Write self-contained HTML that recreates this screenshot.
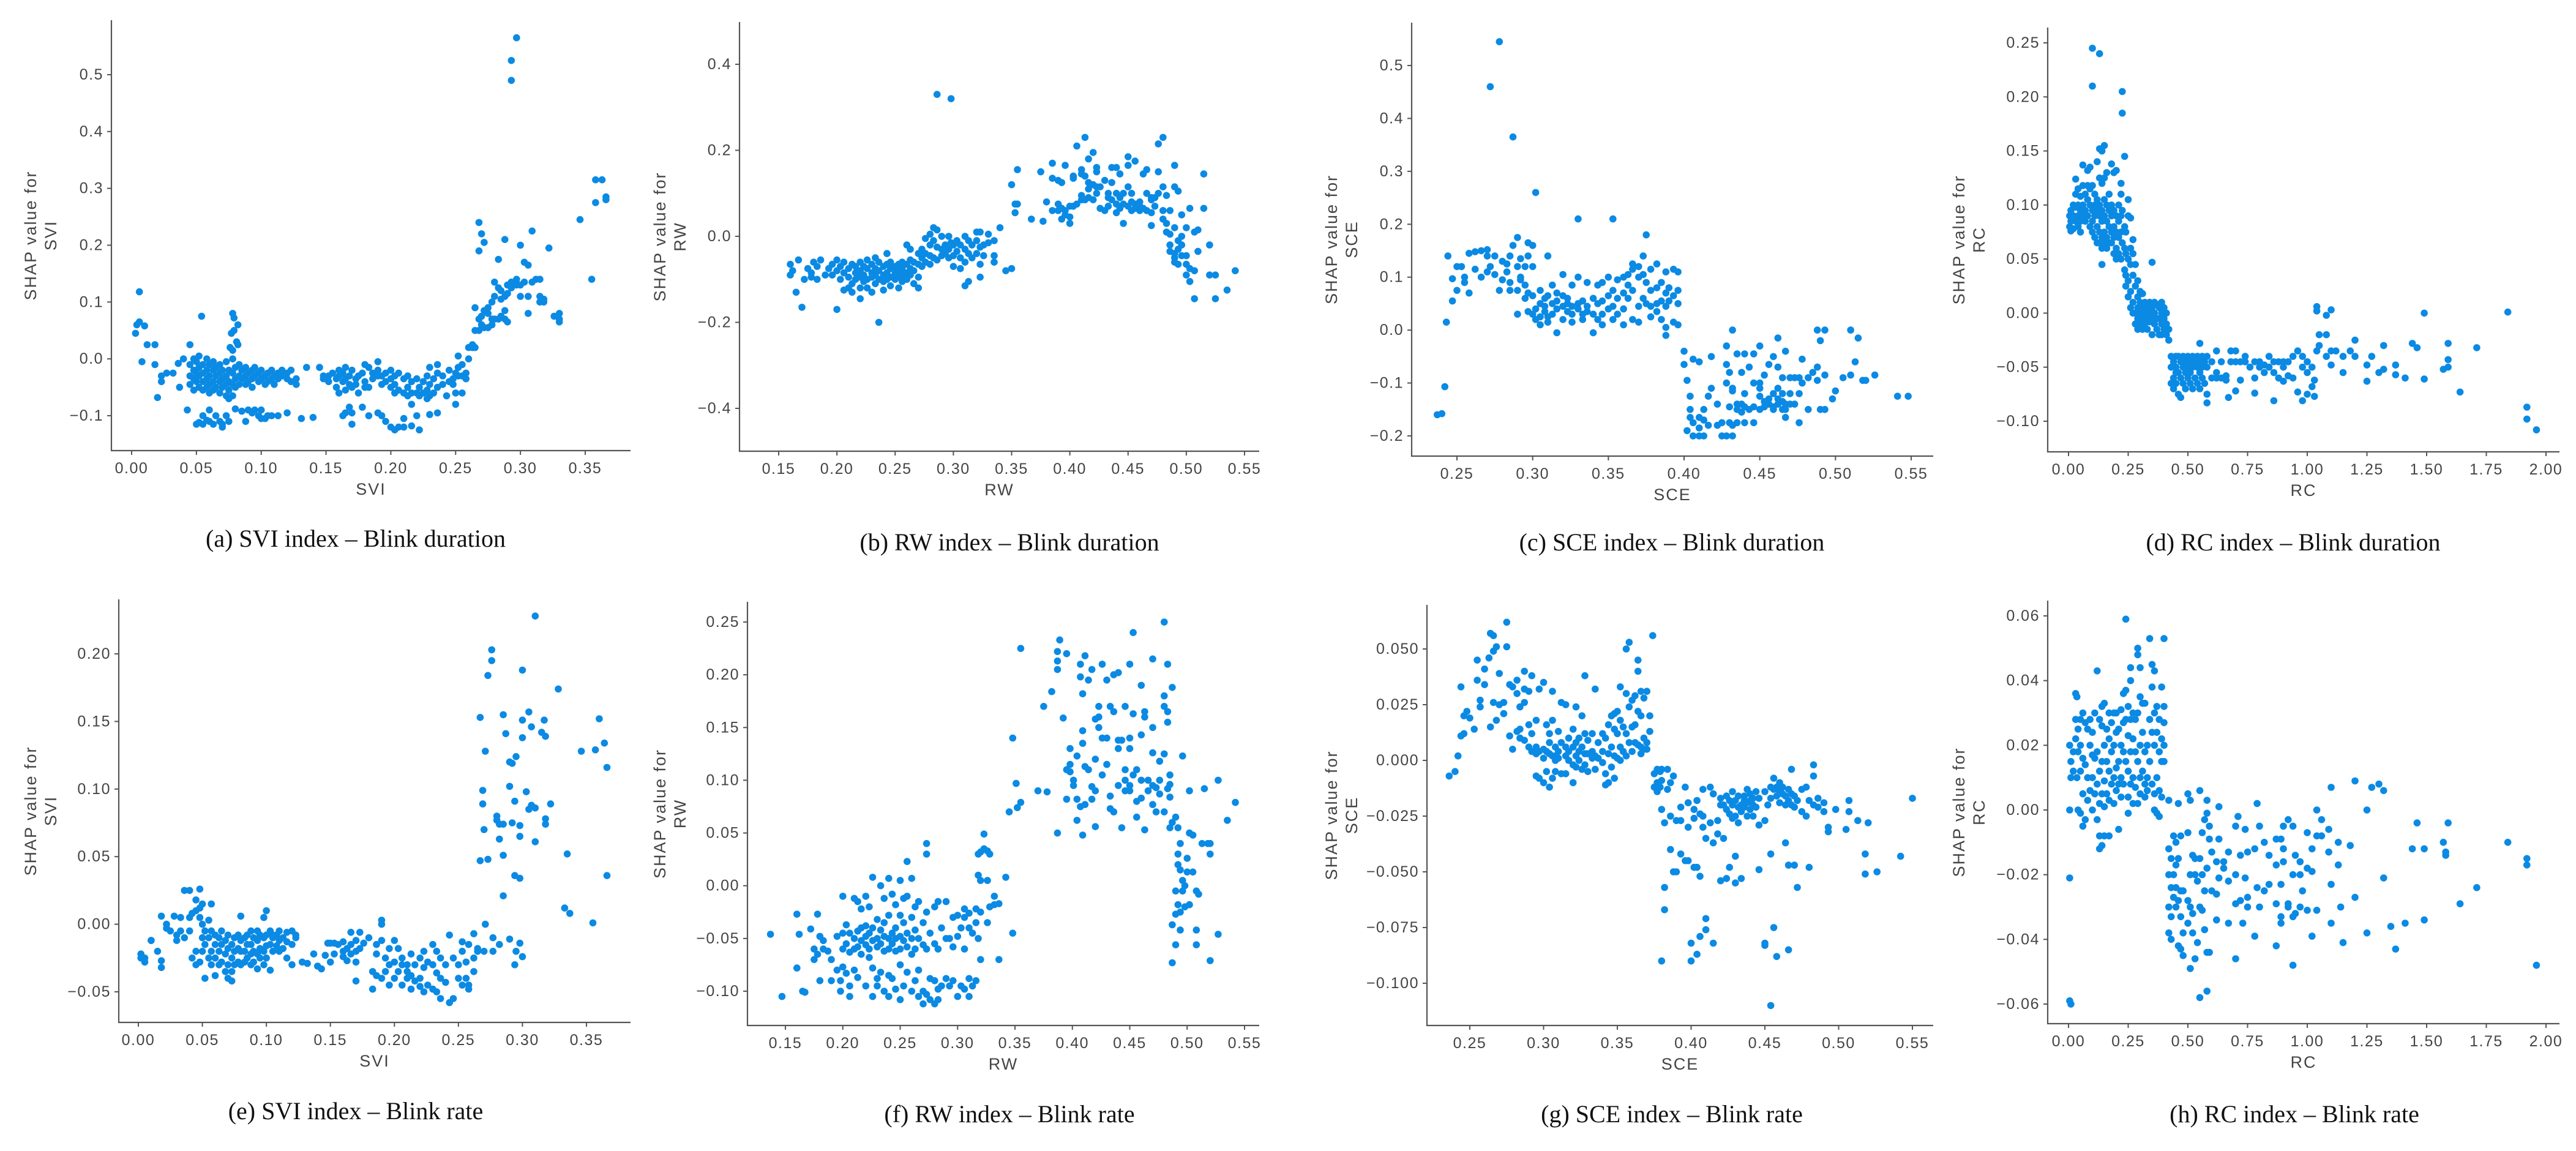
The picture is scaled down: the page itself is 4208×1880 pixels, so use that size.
<!DOCTYPE html>
<html><head><meta charset="utf-8">
<style>
html,body{margin:0;padding:0;background:#fff;}
svg{display:block;}
.tk{font-family:"Liberation Sans","Noto Sans CJK SC",sans-serif;font-size:25px;fill:#444;letter-spacing:1.5px;}
.al{font-family:"Liberation Sans","Noto Sans CJK SC",sans-serif;font-size:27px;fill:#444;letter-spacing:2px;}
.cap{font-family:"Liberation Serif",serif;font-size:40px;fill:#111;}
</style></head>
<body>
<svg id="fig" xmlns="http://www.w3.org/2000/svg" width="4208" height="1880" viewBox="0 0 4208 1880"></svg>
<script>
// ---- data: columns of [xValue, [shapValues...]] ----
const dataA=[[0.003,[0.045]],[0.004,[0.06]],[0.006,[0.065,0.118]],[0.008,[-0.005]],[0.01,[0.058]],[0.012,[0.025]],[0.018,[0.025,-0.01]],[0.02,[-0.068]],[0.023,[-0.03,-0.04]],[0.027,[-0.025]],[0.032,[-0.025]],[0.036,[-0.008]],[0.037,[-0.05]],[0.04,[0]],[0.043,[-0.09]],[0.045,[0.025,-0.01,-0.03,-0.045]],[0.048,[0,-0.02,-0.035,-0.055]],[0.05,[-0.005,-0.025,-0.04,-0.115]],[0.052,[0.005,-0.015,-0.03,-0.05,-0.112]],[0.054,[0.075]],[0.055,[-0.01,-0.025,-0.04,-0.055,-0.1,-0.115]],[0.058,[0,-0.02,-0.035,-0.05,-0.108]],[0.06,[-0.01,-0.03,-0.045,-0.06,-0.09,-0.11]],[0.063,[-0.005,-0.02,-0.04,-0.055,-0.115]],[0.065,[-0.015,-0.03,-0.05,-0.1]],[0.068,[-0.01,-0.025,-0.04,-0.06,-0.11]],[0.07,[-0.02,-0.035,-0.05,-0.115,-0.12]],[0.073,[-0.005,-0.03,-0.045,-0.065,-0.1]],[0.075,[-0.02,-0.04,-0.055,-0.07,-0.11]],[0.076,[0.02]],[0.077,[0.045]],[0.078,[0.08,0.015,0,-0.025,-0.045,-0.065]],[0.079,[0.072,0.05]],[0.08,[-0.015,-0.035,-0.05,-0.088]],[0.081,[0.03]],[0.082,[0.06,0.025]],[0.083,[-0.01,-0.03,-0.045]],[0.085,[-0.02,-0.035,-0.092]],[0.088,[-0.015,-0.03,-0.045,-0.11]],[0.09,[-0.025,-0.04,-0.09]],[0.093,[-0.02,-0.035,-0.05,-0.095]],[0.095,[-0.015,-0.03,-0.09]],[0.098,[-0.025,-0.04,-0.1]],[0.1,[-0.02,-0.035,-0.09,-0.105]],[0.103,[-0.03,-0.045,-0.105]],[0.105,[-0.025,-0.04,-0.1]],[0.108,[-0.02,-0.035,-0.1]],[0.11,[-0.03,-0.045]],[0.113,[-0.025,-0.035,-0.1]],[0.116,[-0.02,-0.03]],[0.12,[-0.025,-0.035,-0.095]],[0.123,[-0.02,-0.04]],[0.127,[-0.045,-0.035]],[0.131,[-0.105]],[0.135,[-0.015]],[0.14,[-0.103]],[0.145,[-0.015]],[0.148,[-0.03,-0.035]],[0.152,[-0.03,-0.04]],[0.155,[-0.025]],[0.158,[-0.035,-0.05]],[0.16,[-0.02,-0.03,-0.06]],[0.163,[-0.025,-0.04,-0.1]],[0.165,[-0.015,-0.035,-0.055,-0.095]],[0.168,[-0.03,-0.045,-0.085]],[0.17,[-0.02,-0.05,-0.095,-0.115]],[0.173,[-0.035,-0.045]],[0.175,[-0.03,-0.06]],[0.178,[-0.025,-0.085]],[0.18,[-0.01,-0.04,-0.05]],[0.183,[-0.015,-0.05,-0.1]],[0.186,[-0.025,-0.035]],[0.19,[-0.005,-0.02,-0.03,-0.095]],[0.193,[-0.03,-0.045,-0.1]],[0.196,[-0.025,-0.04,-0.11]],[0.2,[-0.02,-0.035,-0.05,-0.12]],[0.203,[-0.03,-0.045,-0.06,-0.125]],[0.206,[-0.025,-0.055,-0.12]],[0.21,[-0.035,-0.06,-0.105,-0.12]],[0.213,[-0.03,-0.05,-0.065]],[0.216,[-0.04,-0.06,-0.08,-0.118]],[0.22,[-0.035,-0.06,-0.1]],[0.222,[-0.05,-0.065,-0.125]],[0.225,[-0.04,-0.06]],[0.228,[-0.03,-0.055,-0.07]],[0.23,[-0.015,-0.045,-0.065,-0.098]],[0.233,[-0.035,-0.06]],[0.236,[-0.01,-0.025,-0.05,-0.095]],[0.24,[-0.03,-0.045]],[0.243,[-0.065]],[0.245,[-0.02,-0.04]],[0.248,[-0.035,-0.045]],[0.25,[-0.025,-0.08,-0.06]],[0.252,[0.005,-0.015,-0.03]],[0.255,[-0.01,-0.03,-0.06]],[0.258,[-0.025,-0.035]],[0.26,[0.02,0]],[0.263,[0.02,0.025]],[0.265,[0.02,0.05,0.09]],[0.268,[0.05,0.07,0.19,0.24]],[0.27,[0.06,0.075,0.22]],[0.272,[0.055,0.085,0.205]],[0.275,[0.08,0.09,0.055]],[0.278,[0.06,0.1,0.07]],[0.28,[0.07,0.135,0.11]],[0.283,[0.07,0.125,0.175]],[0.285,[0.075,0.105,0.12]],[0.288,[0.07,0.085,0.11,0.21]],[0.29,[0.065,0.115,0.13]],[0.293,[0.125,0.135,0.49,0.525]],[0.297,[0.14,0.13,0.565]],[0.3,[0.2,0.13,0.11]],[0.303,[0.17,0.135]],[0.306,[0.165,0.11,0.08]],[0.309,[0.225,0.135]],[0.312,[0.14]],[0.315,[0.1,0.11,0.14]],[0.318,[0.105,0.1]],[0.322,[0.195]],[0.326,[0.075]],[0.33,[0.07,0.065,0.08]],[0.346,[0.245]],[0.355,[0.14]],[0.358,[0.315,0.275]],[0.363,[0.315]],[0.366,[0.28,0.285]]];
const dataB=[[0.16,[-0.065,-0.09]],[0.162,[-0.08]],[0.165,[-0.13]],[0.167,[-0.055]],[0.17,[-0.165]],[0.172,[-0.1]],[0.175,[-0.075]],[0.178,[-0.085,-0.095]],[0.18,[-0.06]],[0.183,[-0.07,-0.1]],[0.186,[-0.055]],[0.19,[-0.09]],[0.193,[-0.075]],[0.196,[-0.065,-0.09]],[0.2,[-0.055,-0.08,-0.17]],[0.203,[-0.07,-0.1]],[0.206,[-0.06,-0.085,-0.125]],[0.21,[-0.075,-0.095,-0.12]],[0.213,[-0.065,-0.11,-0.13]],[0.216,[-0.07,-0.085,-0.1]],[0.22,[-0.06,-0.08,-0.095,-0.12,-0.145]],[0.223,[-0.07,-0.09,-0.105]],[0.226,[-0.055,-0.075,-0.1,-0.12]],[0.23,[-0.065,-0.085,-0.095,-0.13]],[0.233,[-0.05,-0.075,-0.09,-0.11]],[0.236,[-0.06,-0.08,-0.1,-0.2]],[0.24,[-0.07,-0.09,-0.105,-0.125]],[0.243,[-0.04,-0.065,-0.085,-0.1]],[0.246,[-0.06,-0.075,-0.095,-0.115]],[0.25,[-0.07,-0.085,-0.1]],[0.253,[-0.065,-0.08,-0.095,-0.12]],[0.256,[-0.06,-0.075,-0.09,-0.105]],[0.26,[-0.02,-0.065,-0.085,-0.1]],[0.263,[-0.03,-0.055,-0.075,-0.09]],[0.266,[-0.06,-0.08,-0.11]],[0.27,[-0.04,-0.065,-0.095,-0.12]],[0.273,[-0.03,-0.05,-0.07]],[0.276,[-0.005,-0.04,-0.06]],[0.28,[0.005,-0.02,-0.045,-0.065]],[0.283,[0.02,-0.01,-0.05]],[0.286,[0.015,-0.025,-0.055,0.33]],[0.29,[0,-0.03,-0.045]],[0.293,[-0.02,-0.04]],[0.296,[0,-0.03,-0.05]],[0.298,[0.32,-0.015]],[0.3,[-0.02,-0.045,-0.07]],[0.303,[-0.01,-0.035]],[0.306,[-0.02,-0.05,-0.075]],[0.31,[0,-0.03,-0.06,-0.115]],[0.313,[-0.01,-0.04,-0.105]],[0.316,[-0.02,-0.05]],[0.32,[0.01,-0.01,-0.04]],[0.323,[0.01,-0.025,-0.065,-0.095]],[0.326,[-0.02,-0.045]],[0.33,[0.005,-0.015]],[0.335,[-0.01,-0.06,-0.045]],[0.34,[0.02]],[0.345,[-0.08]],[0.35,[-0.075,0.12]],[0.353,[0.055,0.075]],[0.355,[0.155,0.075]],[0.367,[0.04]],[0.375,[0.15]],[0.377,[0.035]],[0.38,[0.08]],[0.385,[0.06,0.135,0.17]],[0.39,[0.06,0.13,0.075]],[0.393,[0.065,0.125,0.04]],[0.396,[0.165,0.06,0.05]],[0.4,[0.03,0.07,0.045]],[0.403,[0.135,0.14,0.07]],[0.406,[0.21,0.075]],[0.41,[0.155,0.145,0.095,0.085]],[0.413,[0.23,0.14,0.085]],[0.416,[0.18,0.125,0.09,0.11]],[0.42,[0.195,0.12,0.085]],[0.423,[0.16,0.15,0.1,0.115]],[0.426,[0.115,0.065]],[0.43,[0.13,0.06]],[0.433,[0.1,0.09,0.07]],[0.436,[0.085,0.125,0.16]],[0.44,[0.16,0.1,0.055,0.075]],[0.443,[0.145,0.09,0.065]],[0.446,[0.1,0.03,0.075]],[0.45,[0.165,0.115,0.185,0.07]],[0.453,[0.1,0.06,0.08]],[0.456,[0.075,0.065,0.175]],[0.46,[0.07,0.08,0.06]],[0.463,[0.145,0.065]],[0.466,[0.155,0.06,0.1]],[0.47,[0.09,0.085,0.025,0.055]],[0.473,[0.09,0.07]],[0.476,[0.215,0.15,0.1]],[0.48,[0.23,0.115,0.06,0.04]],[0.483,[0.01,0.03,0.095]],[0.486,[0.005,-0.02,-0.035,0.06]],[0.49,[-0.04,-0.05,-0.06,0.02,0.115,0.165]],[0.493,[-0.01,-0.03,-0.065,0.105]],[0.496,[0,-0.02,-0.045,0.05]],[0.5,[-0.045,-0.065,-0.09,0.02]],[0.503,[-0.075,0.065,-0.105]],[0.507,[-0.145,-0.08,0.01]],[0.51,[0.015,-0.035]],[0.515,[0.145,0.065]],[0.52,[-0.02,-0.09]],[0.525,[-0.09,-0.145]],[0.535,[-0.125]],[0.542,[-0.08]]];
const dataC=[[0.237,[-0.16]],[0.24,[-0.158]],[0.242,[-0.107]],[0.243,[0.015]],[0.244,[0.14]],[0.247,[0.055,0.097]],[0.25,[0.075,0.12]],[0.253,[0.12]],[0.255,[0.1,0.09]],[0.258,[0.145,0.07]],[0.262,[0.148,0.115]],[0.266,[0.15,0.1]],[0.27,[0.152,0.14,0.11]],[0.272,[0.46,0.12]],[0.275,[0.14,0.105]],[0.278,[0.075,0.545]],[0.28,[0.13,0.095]],[0.283,[0.125,0.11]],[0.285,[0.14,0.09,0.075]],[0.287,[0.365,0.16]],[0.29,[0.175,0.12,0.03,0.075]],[0.292,[0.135,0.1,0.095]],[0.295,[0.12,0.085,0.06]],[0.297,[0.165,0.14,0.035,0.07]],[0.3,[0.16,0.12,0.065,0.03]],[0.302,[0.26,0.04,0.02]],[0.305,[0.075,0.05,0.01,0.025]],[0.308,[0.06,0.035,0.045]],[0.31,[0.14,0.065,0.025,0.015]],[0.313,[0.085,0.05,0.03]],[0.316,[0.07,0.055,0.04,-0.005]],[0.32,[0.065,0.045,0.02,0.105]],[0.323,[0.05,0.035,0.06]],[0.326,[0.085,0.045,0.03,0.015]],[0.33,[0.1,0.05,0.04,0.21]],[0.333,[0.055,0.03,0.02]],[0.336,[0.09,0.045,0.035]],[0.34,[0.06,0.03,-0.005]],[0.343,[0.085,0.05,0.02]],[0.346,[0.09,0.055,0.03,0.01]],[0.35,[0.1,0.04,0.065]],[0.353,[0.21,0.075,0.045,0.02]],[0.356,[0.095,0.06,0.03]],[0.36,[0.1,0.07,0.04,0.01]],[0.363,[0.085,0.06,0.105]],[0.366,[0.125,0.115,0.075,0.02]],[0.37,[0.12,0.1,0.045,0.015]],[0.373,[0.14,0.105,0.06]],[0.375,[0.18,0.09,0.05]],[0.378,[0.115,0.075,0.045,0.025]],[0.382,[0.125,0.08,0.05,0.035]],[0.385,[0.09,0.055,0.02]],[0.388,[0.11,0.07,0.045,-0.01,0.005]],[0.39,[0.08,0.055]],[0.393,[0.115,0.065,0.015]],[0.396,[0.11,0.075,0.05,0.01]],[0.4,[-0.065,-0.04]],[0.402,[-0.095,-0.19]],[0.404,[-0.165,-0.125,-0.15]],[0.406,[-0.055,-0.2,-0.175]],[0.41,[-0.06,-0.165,-0.2,-0.185]],[0.413,[-0.15,-0.2,-0.17]],[0.416,[-0.125,-0.18]],[0.418,[-0.11,-0.05]],[0.422,[-0.14,-0.18]],[0.425,[-0.2,-0.175]],[0.428,[-0.1,-0.03,-0.065,-0.2]],[0.43,[-0.145,-0.175,-0.08]],[0.432,[-0.11,-0.115,-0.18,-0.2,0]],[0.435,[-0.15,-0.14,-0.045,-0.175]],[0.438,[-0.08,-0.155,-0.14]],[0.44,[-0.12,-0.045,-0.175,-0.145]],[0.443,[-0.15,-0.07]],[0.446,[-0.1,-0.145,-0.045,-0.175]],[0.45,[-0.1,-0.11,-0.03,-0.15,-0.125]],[0.453,[-0.145,-0.135,-0.085]],[0.456,[-0.13,-0.14,-0.065]],[0.459,[-0.12,-0.145,-0.15,-0.05]],[0.462,[-0.14,-0.13,-0.11,-0.015,-0.07]],[0.465,[-0.12,-0.135,-0.15,-0.09]],[0.467,[-0.14,-0.15,-0.04,-0.165]],[0.47,[-0.09,-0.12,-0.14]],[0.473,[-0.09,-0.14]],[0.476,[-0.09,-0.175,-0.12]],[0.478,[-0.055,-0.1]],[0.482,[-0.09,-0.15]],[0.485,[-0.08]],[0.488,[-0.07,0,-0.095]],[0.49,[-0.02,-0.15]],[0.493,[0,-0.085,-0.15]],[0.498,[-0.13]],[0.5,[-0.115]],[0.505,[-0.09]],[0.51,[-0.085,0]],[0.513,[-0.06]],[0.515,[-0.015]],[0.518,[-0.095]],[0.52,[-0.095]],[0.526,[-0.085]],[0.541,[-0.125]],[0.548,[-0.125]]];
const dataD=[[0.005,[0.09,0.08]],[0.01,[0.095,0.085,0.076]],[0.02,[0.1,0.09,0.078]],[0.03,[0.124,0.11,0.098,0.085]],[0.04,[0.115,0.1,0.09,0.08]],[0.05,[0.108,0.095,0.085,0.075]],[0.06,[0.137,0.118,0.1,0.09]],[0.07,[0.11,0.095,0.085]],[0.08,[0.132,0.118,0.105,0.09]],[0.09,[0.135,0.115,0.1,0.08]],[0.1,[0.245,0.21,0.118,0.095,0.085,0.075]],[0.11,[0.11,0.1,0.09,0.07]],[0.12,[0.14,0.105,0.095,0.08,0.065]],[0.13,[0.24,0.152,0.125,0.1,0.09,0.075,0.065]],[0.14,[0.15,0.12,0.095,0.085,0.07,0.06,0.045]],[0.15,[0.155,0.125,0.105,0.09,0.075,0.065]],[0.16,[0.13,0.1,0.085,0.07,0.06]],[0.17,[0.11,0.095,0.08,0.065]],[0.18,[0.138,0.1,0.09,0.075,0.065]],[0.19,[0.13,0.095,0.08,0.07,0.055]],[0.2,[0.132,0.09,0.075,0.06,0.05]],[0.21,[0.1,0.085,0.07,0.055]],[0.22,[0.12,0.11,0.09,0.075,0.05]],[0.225,[0.205,0.185,0.095,0.065]],[0.235,[0.145,0.08,0.06,0.04]],[0.24,[0.075,0.055,0.035,0.025]],[0.25,[0.105,0.09,0.05,0.03,0.015]],[0.26,[0.088,0.06,0.045,0.02,0.005]],[0.27,[0.068,0.055,0.035,0.01,0]],[0.28,[0.045,0.025,0,-0.01]],[0.29,[0.03,0.015,0.005,-0.005,-0.015]],[0.3,[0.02,0.01,0,-0.01]],[0.31,[0.018,0.005,-0.005,-0.015]],[0.32,[0.01,0,-0.01,-0.005]],[0.33,[0.005,-0.005,-0.015]],[0.34,[0.01,0,-0.008]],[0.35,[0.047,0.005,-0.005,-0.02]],[0.36,[0.01,0,-0.01]],[0.37,[0.008,-0.005,-0.015]],[0.38,[0.005,-0.005,-0.02]],[0.39,[0.01,0,-0.01,-0.02]],[0.4,[0.005,-0.005,-0.015]],[0.41,[0,-0.01,-0.02]],[0.42,[-0.015,-0.025]],[0.43,[-0.04,-0.05,-0.065]],[0.44,[-0.045,-0.06,-0.07]],[0.45,[-0.04,-0.05,-0.055,-0.065]],[0.46,[-0.04,-0.055,-0.075]],[0.47,[-0.045,-0.06,-0.078]],[0.48,[-0.04,-0.05,-0.065]],[0.49,[-0.045,-0.055,-0.07]],[0.5,[-0.04,-0.05,-0.06]],[0.51,[-0.045,-0.055,-0.065]],[0.52,[-0.04,-0.05,-0.07]],[0.53,[-0.045,-0.06]],[0.54,[-0.04,-0.05,-0.065]],[0.55,[-0.028,-0.045,-0.055,-0.07]],[0.56,[-0.04,-0.05,-0.06]],[0.57,[-0.045,-0.065]],[0.58,[-0.04,-0.05,-0.075,-0.083]],[0.6,[-0.045,-0.06]],[0.62,[-0.035,-0.055,-0.06]],[0.64,[-0.045,-0.06]],[0.66,[-0.058,-0.062]],[0.67,[-0.078]],[0.68,[-0.035,-0.045]],[0.7,[-0.035,-0.045,-0.072]],[0.72,[-0.045,-0.062]],[0.74,[-0.04,-0.045]],[0.76,[-0.05]],[0.78,[-0.045,-0.06,-0.074]],[0.8,[-0.05,-0.045]],[0.82,[-0.048,-0.055]],[0.84,[-0.04,-0.05]],[0.86,[-0.045,-0.055,-0.081]],[0.88,[-0.045,-0.06]],[0.9,[-0.05,-0.063,-0.045]],[0.92,[-0.045,-0.058]],[0.94,[-0.04,-0.06]],[0.96,[-0.035,-0.073]],[0.98,[-0.05,-0.081,-0.04]],[1.0,[-0.045,-0.055,-0.075]],[1.02,[-0.05,-0.068]],[1.03,[-0.062,-0.077]],[1.04,[0.006,0.002,-0.035]],[1.05,[-0.02,-0.03]],[1.08,[-0.04,-0.02,-0.002]],[1.1,[0.003,-0.035,-0.048]],[1.12,[-0.035]],[1.15,[-0.04,-0.055]],[1.18,[-0.035]],[1.2,[-0.025,-0.04]],[1.25,[-0.048,-0.063]],[1.27,[-0.04]],[1.3,[-0.055]],[1.32,[-0.03,-0.052]],[1.37,[-0.048,-0.057]],[1.41,[-0.06]],[1.44,[-0.028]],[1.46,[-0.032]],[1.49,[0,-0.061]],[1.57,[-0.052]],[1.59,[-0.028,-0.043,-0.05]],[1.64,[-0.073]],[1.71,[-0.032]],[1.84,[0.001]],[1.92,[-0.087,-0.098]],[1.96,[-0.108]]];
const dataE=[[0.002,[-0.022,-0.025]],[0.005,[-0.025,-0.028]],[0.01,[-0.012,-0.012]],[0.015,[-0.02]],[0.018,[0.006,-0.032,-0.027]],[0.022,[-0.003,0]],[0.025,[-0.005]],[0.028,[0.006]],[0.03,[-0.012,-0.008]],[0.033,[0.005,-0.005]],[0.036,[0.025,-0.01]],[0.04,[0.025,0.005,-0.005]],[0.042,[0.008,-0.025]],[0.045,[0.018,0.01,-0.03,-0.02]],[0.048,[0.026,0.012,0.005,-0.028]],[0.05,[0,-0.01,-0.02,0.015]],[0.052,[-0.005,-0.015,-0.04]],[0.055,[0.003,-0.01,-0.025]],[0.057,[0.015,-0.005,-0.02,-0.03]],[0.06,[-0.008,-0.015,-0.025,-0.038]],[0.063,[-0.01,-0.02,-0.03]],[0.065,[-0.005,-0.015,-0.028]],[0.068,[-0.012,-0.022,-0.035]],[0.07,[-0.008,-0.018,-0.03,-0.04]],[0.073,[-0.015,-0.025,-0.035,-0.042]],[0.075,[-0.01,-0.02,-0.03]],[0.078,[-0.008,-0.018,-0.028]],[0.08,[0.006,-0.012,-0.02,-0.03]],[0.083,[-0.01,-0.02,-0.028]],[0.085,[-0.008,-0.015,-0.025]],[0.088,[-0.005,-0.015,-0.022,-0.03]],[0.09,[-0.01,-0.02,-0.028]],[0.093,[-0.005,-0.012,-0.022,-0.033]],[0.095,[-0.008,-0.018,-0.025]],[0.098,[0.005,-0.01,-0.02,-0.03]],[0.1,[0.01,-0.008,-0.016,-0.025]],[0.103,[-0.005,-0.015,-0.034]],[0.105,[-0.01,-0.02,-0.008]],[0.108,[-0.008,-0.016]],[0.11,[-0.012,-0.02,-0.005]],[0.113,[-0.01,-0.018]],[0.116,[-0.006,-0.013,-0.025]],[0.12,[-0.005,-0.015,-0.03]],[0.123,[-0.008,-0.01]],[0.128,[-0.028]],[0.132,[-0.029]],[0.137,[-0.022]],[0.14,[-0.031]],[0.143,[-0.033]],[0.146,[-0.023]],[0.148,[-0.014]],[0.15,[-0.028,-0.014]],[0.153,[-0.014,-0.022]],[0.156,[-0.015]],[0.16,[-0.013,-0.02,-0.024]],[0.163,[-0.018,-0.027]],[0.166,[-0.006,-0.015,-0.022]],[0.17,[-0.012,-0.02,-0.042,-0.028]],[0.173,[-0.006,-0.018]],[0.176,[-0.014]],[0.18,[-0.01]],[0.183,[-0.035,-0.048]],[0.186,[-0.015,-0.022,-0.038]],[0.19,[0.003,0,-0.04,-0.012]],[0.193,[-0.025,-0.035]],[0.196,[-0.018,-0.03,-0.045]],[0.2,[-0.012,-0.028,-0.04]],[0.203,[-0.018,-0.035]],[0.206,[-0.025,-0.045,-0.03]],[0.21,[-0.03,-0.04,-0.035]],[0.213,[-0.022,-0.038,-0.048]],[0.216,[-0.03,-0.042]],[0.22,[-0.025,-0.04,-0.046]],[0.223,[-0.02,-0.032,-0.05]],[0.226,[-0.028,-0.045]],[0.23,[-0.015,-0.03,-0.048]],[0.233,[-0.02,-0.036,-0.05]],[0.236,[-0.025,-0.04,-0.055]],[0.24,[-0.03,-0.043]],[0.243,[-0.008,-0.058]],[0.246,[-0.025,-0.055]],[0.25,[-0.04,-0.03]],[0.253,[-0.013,-0.045,-0.02]],[0.256,[-0.028,-0.04]],[0.258,[-0.015,-0.045,-0.048]],[0.262,[-0.007,-0.025,-0.035]],[0.265,[-0.02,-0.018]],[0.267,[0.153,0.047]],[0.269,[0.099,0.089]],[0.27,[0.07,-0.02]],[0.271,[0.128,0]],[0.273,[0.184,0.048]],[0.276,[0.203,0.195]],[0.277,[-0.01,-0.02]],[0.28,[0.077,0.08]],[0.282,[0.063,0.074,-0.015]],[0.285,[0.155,0.051,0.021,0.074]],[0.287,[0.141]],[0.29,[0.102,0.12,-0.011]],[0.292,[0.119,0.075]],[0.294,[0.091,0.036,-0.03]],[0.295,[0.124,-0.02]],[0.298,[0.065,0.073,0.034,-0.014]],[0.3,[0.138,0.151,0.188,-0.024]],[0.303,[0.098]],[0.305,[0.085,0.157]],[0.307,[0.146,0.088]],[0.31,[0.228,0.086,0.061]],[0.315,[0.142]],[0.317,[0.151]],[0.318,[0.139,0.078,0.074]],[0.322,[0.089]],[0.328,[0.174]],[0.333,[0.012]],[0.335,[0.052]],[0.337,[0.008]],[0.346,[0.128]],[0.355,[0.001]],[0.357,[0.129]],[0.36,[0.152]],[0.364,[0.134]],[0.366,[0.116,0.036]]];
const dataF=[[0.137,[-0.046]],[0.147,[-0.105]],[0.16,[-0.078,-0.027]],[0.162,[-0.046]],[0.165,[-0.1]],[0.167,[-0.101]],[0.172,[-0.041]],[0.175,[-0.06,-0.07]],[0.178,[-0.065,-0.027]],[0.18,[-0.09,-0.048]],[0.183,[-0.052,-0.06]],[0.187,[-0.062]],[0.19,[-0.07,-0.09]],[0.195,[-0.08,-0.048]],[0.198,[-0.09,-0.1]],[0.2,[-0.01,-0.045,-0.06,-0.077]],[0.203,[-0.037,-0.055,-0.083]],[0.206,[-0.045,-0.063,-0.095,-0.105]],[0.21,[-0.012,-0.05,-0.06,-0.08]],[0.213,[-0.015,-0.043,-0.058,-0.087]],[0.216,[-0.022,-0.04,-0.052,-0.065]],[0.22,[-0.01,-0.038,-0.048,-0.056,-0.095]],[0.223,[-0.02,-0.045,-0.06,-0.068]],[0.226,[0.008,-0.04,-0.052,-0.078,-0.105]],[0.23,[-0.032,-0.05,-0.058,-0.088,-0.095]],[0.233,[0,-0.042,-0.055,-0.082]],[0.236,[-0.012,-0.035,-0.048,-0.062,-0.1]],[0.24,[0.007,-0.028,-0.05,-0.06,-0.085,-0.105]],[0.243,[-0.008,-0.045,-0.055,-0.088]],[0.246,[-0.018,-0.04,-0.05,-0.062,-0.098]],[0.25,[0.005,-0.028,-0.048,-0.06,-0.075,-0.108]],[0.253,[-0.012,-0.035,-0.052,-0.095]],[0.256,[0.023,-0.01,-0.045,-0.058,-0.082]],[0.26,[0.007,-0.03,-0.05,-0.065,-0.1]],[0.263,[-0.02,-0.042,-0.06,-0.09]],[0.266,[-0.015,-0.05,-0.08,-0.105]],[0.27,[-0.035,-0.056,-0.1,-0.112]],[0.273,[0.04,0.03,-0.025,-0.06,-0.103]],[0.276,[-0.045,-0.088,-0.108]],[0.28,[-0.02,-0.055,-0.09,-0.112]],[0.283,[-0.015,-0.06,-0.098,-0.108]],[0.286,[-0.04,-0.095]],[0.29,[-0.015,-0.05,-0.088]],[0.293,[-0.05,-0.095]],[0.296,[-0.03,-0.058,-0.09]],[0.3,[-0.028,-0.048,-0.105]],[0.303,[-0.04,-0.095]],[0.306,[-0.022,-0.03,-0.06,-0.098]],[0.31,[-0.026,-0.04,-0.088,-0.105]],[0.313,[-0.045,-0.095]],[0.316,[-0.022,-0.035,-0.09]],[0.318,[0.03,0.01,-0.05]],[0.32,[0.032,0.005,-0.025,-0.07]],[0.323,[0.049,0.035]],[0.326,[0.033,0.005,-0.035]],[0.328,[0.03,-0.02]],[0.332,[-0.01,-0.018]],[0.336,[-0.07,-0.017]],[0.342,[0.008]],[0.345,[0.07]],[0.348,[0.14,-0.045]],[0.351,[0.097]],[0.352,[0.074]],[0.355,[0.225,0.079]],[0.37,[0.09]],[0.375,[0.17]],[0.378,[0.089]],[0.382,[0.184]],[0.387,[0.05,0.205,0.213,0.222]],[0.389,[0.233]],[0.392,[0.159]],[0.395,[0.082,0.11,0.22]],[0.398,[0.115,0.108,0.13]],[0.401,[0.1,0.095]],[0.404,[0.123,0.062,0.082]],[0.407,[0.075,0.198,0.21]],[0.409,[0.135,0.147,0.182,0.048]],[0.411,[0.218,0.077,0.113]],[0.414,[0.195,0.11]],[0.417,[0.205,0.094,0.082]],[0.42,[0.158,0.12,0.056,0.09]],[0.423,[0.16,0.15,0.17]],[0.426,[0.21,0.14,0.105]],[0.43,[0.195,0.14,0.115]],[0.433,[0.17,0.073,0.085]],[0.436,[0.2,0.165,0.07]],[0.44,[0.202,0.13,0.138,0.095]],[0.443,[0.138,0.055]],[0.446,[0.11,0.1,0.09,0.17]],[0.45,[0.21,0.13,0.14,0.095,0.09]],[0.453,[0.24,0.163,0.105]],[0.456,[0.065,0.08,0.11]],[0.46,[0.19,0.143,0.083,0.1]],[0.463,[0.16,0.165,0.053]],[0.466,[0.09,0.1]],[0.47,[0.215,0.15,0.126,0.095,0.077]],[0.473,[0.07,0.093]],[0.476,[0.118,0.087,0.1]],[0.48,[0.25,0.18,0.17,0.125,0.07]],[0.483,[0.21,0.165,0.155,0.092]],[0.485,[0.096,0.105,0.055,0.084]],[0.487,[0.188,0.06,-0.037,-0.073]],[0.49,[0.065,-0.005,-0.027,-0.056]],[0.492,[0.03,0.02,-0.018,0.055]],[0.494,[0.04,0.015,-0.025,-0.042]],[0.496,[0.123,0.005,-0.005]],[0.498,[0,-0.02]],[0.5,[0.026,0.013]],[0.502,[0.09,0.05,-0.018]],[0.505,[0.048,0.013]],[0.508,[-0.005,-0.042,-0.056]],[0.51,[-0.008]],[0.513,[0.04]],[0.515,[0.092]],[0.518,[0.04]],[0.52,[0.03,0.04,-0.071]],[0.527,[0.1,-0.046]],[0.535,[0.062]],[0.542,[0.079]]];
const dataG=[[0.236,[-0.007]],[0.24,[-0.005]],[0.242,[0.002]],[0.244,[0.011,0.033]],[0.246,[0.02,0.012]],[0.248,[0.022]],[0.25,[0.019]],[0.253,[0.014]],[0.255,[0.045,0.036]],[0.257,[0.027,0.024]],[0.26,[0.041,0.034]],[0.263,[0.046]],[0.264,[0.057,0.015]],[0.266,[0.056,0.026,0.049]],[0.268,[0.051,0.018]],[0.27,[0.039,0.025]],[0.273,[0.026,0.021]],[0.275,[0.062,0.051]],[0.277,[0.034,0.011]],[0.279,[0.033,0.005]],[0.282,[0.036,0.03,0.013]],[0.284,[0.014,0.01,0.024]],[0.287,[0.04,0.032,0.009,0.026]],[0.29,[0.031,0.016,0.006]],[0.292,[0.038,0.012,0.004]],[0.295,[0.018,0.006,-0.007,0.003]],[0.297,[0.032,0.004,-0.008]],[0.3,[0.035,0.005,0.001,-0.01]],[0.302,[0.016,0.004,-0.005]],[0.304,[0.003,0.012,0.008,-0.012]],[0.306,[0.031,0.018,0.002,-0.008]],[0.308,[0.006,0.002,0,-0.005]],[0.31,[0.013,0.004,0.001]],[0.312,[0.026,0.008,-0.006]],[0.315,[0.025,0.006,0.002,-0.006]],[0.317,[0.01,0,0.004]],[0.32,[0.014,0.006,-0.002,-0.01]],[0.322,[0.024,0.008,0.002,-0.003]],[0.324,[0.01,0.004,0]],[0.326,[0.02,0.006,-0.004]],[0.328,[0.038,0.012,0.003,-0.002]],[0.33,[0.009,0.003,-0.005]],[0.333,[0.012,0.004,0.001]],[0.335,[0.032,0.002,-0.004]],[0.337,[0.008,0.001]],[0.34,[0.012,0.004,-0.001]],[0.342,[0.01,-0.006,-0.011]],[0.344,[0.016,0.003,-0.01]],[0.346,[0.02,0.006,-0.003]],[0.348,[0.021,0.014,0.002,-0.008]],[0.35,[0.022,0.012,0.001]],[0.352,[0.033,0.018,0.006,0]],[0.354,[0.015,0.004]],[0.356,[0.05,0.03,0.012,0.002]],[0.358,[0.053,0.024,0.008]],[0.36,[0.027,0.015,0.004]],[0.362,[0.029,0.016,0.008]],[0.364,[0.045,0.04,0.022,0.007]],[0.366,[0.031,0.02,0.006,0.003]],[0.368,[0.028,0.01,0.005]],[0.37,[0.031,0.008,0.005]],[0.372,[0.02,0.013]],[0.374,[0.056]],[0.375,[-0.012,-0.006]],[0.377,[-0.01,-0.014,-0.004]],[0.379,[-0.005,-0.012]],[0.38,[-0.009,-0.022,-0.004,-0.09]],[0.382,[-0.028,-0.067,-0.057]],[0.384,[-0.013,-0.004]],[0.386,[-0.01,-0.025,-0.04]],[0.388,[-0.007,-0.05]],[0.39,[-0.027,-0.05]],[0.393,[-0.021,-0.027,-0.042]],[0.396,[-0.012,-0.045]],[0.398,[-0.019,-0.03,-0.045]],[0.4,[-0.09,-0.082]],[0.402,[-0.022,-0.026,-0.048]],[0.404,[-0.018,-0.048,-0.087]],[0.406,[-0.024,-0.052,-0.079]],[0.408,[-0.013,-0.025,-0.03]],[0.41,[-0.076,-0.071,-0.035]],[0.413,[-0.012,-0.028]],[0.415,[-0.015,-0.082,-0.037]],[0.418,[-0.027,-0.033]],[0.42,[-0.02,-0.017,-0.054]],[0.422,[-0.035,-0.02]],[0.424,[-0.022,-0.016,-0.053]],[0.426,[-0.024,-0.018,-0.048]],[0.428,[-0.02,-0.014,-0.026]],[0.43,[-0.018,-0.025,-0.043,-0.055]],[0.432,[-0.021,-0.016,-0.028]],[0.434,[-0.02,-0.023,-0.053]],[0.436,[-0.016,-0.018,-0.021]],[0.438,[-0.013,-0.019,-0.025]],[0.44,[-0.018,-0.022,-0.015]],[0.442,[-0.02,-0.017,-0.025]],[0.444,[-0.014,-0.021]],[0.446,[-0.017,-0.029,-0.049]],[0.45,[-0.014,-0.027,-0.083,-0.082]],[0.452,[-0.02]],[0.454,[-0.012,-0.017,-0.042,-0.11]],[0.456,[-0.008,-0.013,-0.075]],[0.458,[-0.012,-0.016,-0.088]],[0.46,[-0.01,-0.014,-0.019]],[0.462,[-0.015,-0.012]],[0.464,[-0.016,-0.02,-0.037]],[0.466,[-0.013,-0.018,-0.085,-0.047]],[0.468,[-0.004,-0.015,-0.02]],[0.47,[-0.016,-0.021,-0.047]],[0.472,[-0.057,-0.018]],[0.475,[-0.013,-0.023]],[0.478,[-0.012,-0.025]],[0.48,[-0.018,-0.048]],[0.483,[-0.007,-0.002,-0.02]],[0.486,[-0.017,-0.021]],[0.49,[-0.019,-0.023]],[0.493,[-0.03,-0.032]],[0.498,[-0.022]],[0.505,[-0.031]],[0.507,[-0.018,-0.023]],[0.513,[-0.027]],[0.518,[-0.051,-0.042]],[0.52,[-0.028]],[0.526,[-0.05]],[0.542,[-0.043]],[0.55,[-0.017]]];
const dataH=[[0.005,[0.02,0,-0.021,-0.059]],[0.01,[0.015,0.01,-0.06]],[0.02,[0.018,0.012]],[0.03,[0.036,0.028,0.022]],[0.035,[0.035,0.01]],[0.04,[0.025,0.018,0]],[0.05,[0.028,0.02,0.012,-0.001]],[0.06,[0.03,0.016,0.005,-0.005]],[0.07,[0.027,0.014,-0.003]],[0.08,[0.025,0.01,0.003]],[0.09,[0.028,0.02,0.006]],[0.1,[0.024,0.017,0.01,0]],[0.11,[0.03,0.016,0.005]],[0.12,[0.043,0.018,0.008,-0.003]],[0.13,[0.028,0.012,0.002,-0.008,-0.012]],[0.14,[0.032,0.026,0.015,0.005,-0.011]],[0.15,[0.033,0.02,0.009,0.001,-0.008]],[0.16,[0.025,0.015,0.005]],[0.17,[0.03,0.022,0.012,0.003,-0.008]],[0.18,[0.027,0.018,0.008]],[0.19,[0.03,0.02,0.01,0.002]],[0.2,[0.03,0.024,0.013,0.006]],[0.21,[0.025,0.015,0.008,-0.006]],[0.22,[0.031,0.02,0.01,0.004]],[0.23,[0.036,0.027,0.018,0.008]],[0.24,[0.059,0.037,0.028,0.015]],[0.25,[0.032,0.023,0.012,0.004,-0.001]],[0.26,[0.044,0.04,0.028,0.018,0.008]],[0.27,[0.03,0.022,0.01,0.002]],[0.28,[0.028,0.018,0.007]],[0.29,[0.05,0.048,0.03,0.015,0.002]],[0.3,[0.044,0.035,0.02,0.01,0.005]],[0.31,[0.033,0.024,0.012]],[0.32,[0.033,0.018,0.008,0.004]],[0.33,[0.02,0.01,0.006]],[0.34,[0.053,0.028,0.015]],[0.35,[0.045,0.038,0.024,0.008]],[0.36,[0.043,0.03,0.02,0.005,0]],[0.37,[0.032,0.024,0.01,-0.001]],[0.38,[0.028,0.018,0.006,-0.002]],[0.39,[0.038,0.022,0.015,0.004]],[0.4,[0.053,0.032,0.027,0.02,0.015]],[0.42,[0.003,-0.012,-0.02,-0.03,-0.038]],[0.43,[-0.015,-0.024,-0.033,-0.04]],[0.44,[-0.008,-0.02,-0.027]],[0.45,[-0.01,-0.017,-0.024,-0.03]],[0.46,[0.002,-0.015,-0.028,-0.042]],[0.47,[-0.008,-0.025,-0.033,-0.043]],[0.48,[-0.025,-0.038,-0.045]],[0.5,[0.005,-0.007,-0.028,-0.035]],[0.51,[0.003,-0.02,-0.03,-0.049]],[0.52,[-0.014,-0.032,-0.038]],[0.53,[-0.015,-0.046,-0.02]],[0.54,[-0.022,-0.041]],[0.55,[0.006,-0.015,-0.03,-0.058]],[0.56,[-0.007,-0.02,-0.031]],[0.57,[-0.003,-0.025,-0.037]],[0.58,[0.003,-0.001,-0.018,-0.044,-0.056]],[0.59,[-0.005,-0.009,-0.044]],[0.6,[-0.013,-0.025]],[0.62,[-0.016,-0.026,-0.034]],[0.63,[0.001,-0.009,-0.021]],[0.65,[-0.016,-0.018]],[0.67,[-0.013,-0.022,-0.035]],[0.7,[-0.005,-0.02,-0.029,-0.046]],[0.71,[-0.002]],[0.72,[-0.014,-0.028]],[0.73,[-0.035]],[0.74,[-0.021,-0.006]],[0.75,[-0.013,-0.027,-0.03]],[0.78,[-0.012,-0.039]],[0.79,[0.002,-0.024]],[0.8,[-0.005,-0.03]],[0.82,[-0.01,-0.025]],[0.84,[-0.014,-0.023]],[0.87,[-0.009,-0.017,-0.029,-0.042]],[0.89,[-0.009,-0.023,-0.033,-0.035]],[0.9,[-0.005,-0.012,-0.016]],[0.92,[-0.003,-0.029,-0.03]],[0.94,[-0.005,-0.02,-0.033,-0.048]],[0.95,[-0.014,-0.032]],[0.97,[-0.016,-0.02,-0.03]],[0.98,[-0.025]],[1.0,[-0.007,-0.018,-0.031]],[1.02,[-0.012,-0.019,-0.039]],[1.04,[0,-0.008,-0.031]],[1.06,[-0.003,-0.008]],[1.09,[-0.006,-0.013]],[1.1,[0.007,-0.023,-0.035]],[1.13,[-0.01,-0.017]],[1.14,[-0.03]],[1.15,[-0.041]],[1.18,[-0.011]],[1.2,[0.009,-0.027]],[1.25,[0,-0.038]],[1.27,[0.007]],[1.3,[0.008]],[1.32,[0.006,-0.021]],[1.35,[-0.036]],[1.37,[-0.043]],[1.41,[-0.035]],[1.44,[-0.012]],[1.46,[-0.004]],[1.49,[-0.012,-0.034]],[1.57,[-0.01]],[1.58,[-0.013,-0.014]],[1.59,[-0.004]],[1.64,[-0.029]],[1.71,[-0.024]],[1.84,[-0.01]],[1.92,[-0.015,-0.017]],[1.96,[-0.048]]];

// tick label arrays
const xTicksA=[0,0.05,0.1,0.15,0.2,0.25,0.3,0.35];
const yTicksA=[-0.1,0,0.1,0.2,0.3,0.4,0.5];
const xTicksB=[0.15,0.2,0.25,0.3,0.35,0.4,0.45,0.5,0.55];
const yTicksB=[-0.4,-0.2,0,0.2,0.4];
const xTicksC=[0.25,0.3,0.35,0.4,0.45,0.5,0.55];
const yTicksC=[-0.2,-0.1,0,0.1,0.2,0.3,0.4,0.5];
const xTicksD=[0,0.25,0.5,0.75,1,1.25,1.5,1.75,2];
const yTicksD=[-0.1,-0.05,0,0.05,0.1,0.15,0.2,0.25];
const yTicksE=[-0.05,0,0.05,0.1,0.15,0.2];
const yTicksF=[-0.1,-0.05,0,0.05,0.1,0.15,0.2,0.25];
const yTicksG=[-0.1,-0.075,-0.05,-0.025,0,0.025,0.05];
const yTicksH=[-0.06,-0.04,-0.02,0,0.02,0.04,0.06];
const captions=["(a) SVI index – Blink duration","(b) RW index – Blink duration","(c) SCE index – Blink duration","(d) RC index – Blink duration","(e) SVI index – Blink rate","(f) RW index – Blink rate","(g) SCE index – Blink rate","(h) RC index – Blink rate"];

// layout (pixel geometry, not data)
const panels=[
 {id:'a',data:dataA,feat:'SVI',xt:xTicksA,xd:2,yt:yTicksA,yd:1,L:182,R:1030,T:33,B:736,xp:[0,215,0.35,956],yp:[0.5,122,-0.1,679],lab:50,cx:581,cy:880},
 {id:'b',data:dataB,feat:'RW',xt:xTicksB,xd:2,yt:yTicksB,yd:1,L:1208,R:2057,T:36,B:737,xp:[0.15,1272,0.55,2033],yp:[0.4,105,-0.4,667],lab:1078,cx:1649,cy:886},
 {id:'c',data:dataC,feat:'SCE',xt:xTicksC,xd:2,yt:yTicksC,yd:1,L:2306,R:3158,T:37,B:745,xp:[0.25,2380,0.55,3122],yp:[0.5,107,-0.2,712],lab:2175,cx:2731,cy:886},
 {id:'d',data:dataD,feat:'RC',xt:xTicksD,xd:2,yt:yTicksD,yd:2,L:3345,R:4181,T:45,B:738,xp:[0,3379,2,4159],yp:[0.25,70,-0.1,688],lab:3200,cx:3746,cy:886},
 {id:'e',data:dataE,feat:'SVI',xt:xTicksA,xd:2,yt:yTicksE,yd:2,L:194,R:1030,T:979,B:1670,xp:[0,226,0.35,958],yp:[0.2,1068,-0.05,1620],lab:50,cx:581,cy:1815},
 {id:'f',data:dataF,feat:'RW',xt:xTicksB,xd:2,yt:yTicksF,yd:2,L:1221,R:2057,T:983,B:1675,xp:[0.15,1283,0.55,2033],yp:[0.25,1016,-0.1,1619],lab:1078,cx:1649,cy:1820},
 {id:'g',data:dataG,feat:'SCE',xt:xTicksC,xd:2,yt:yTicksG,yd:3,L:2331,R:3158,T:988,B:1675,xp:[0.25,2401,0.55,3124],yp:[0.05,1060,-0.1,1606],lab:2175,cx:2731,cy:1820},
 {id:'h',data:dataH,feat:'RC',xt:xTicksD,xd:2,yt:yTicksH,yd:2,L:3345,R:4181,T:981,B:1672,xp:[0,3379,2,4159],yp:[0.06,1006,-0.06,1640],lab:3200,cx:3748,cy:1820}
];
const NS='http://www.w3.org/2000/svg';
const svg=document.getElementById('fig');
function mk(tag,attrs,parent){const e=document.createElementNS(NS,tag);for(const k in attrs)e.setAttribute(k,attrs[k]);parent.appendChild(e);return e;}
function fmt(v,d){let s=v.toFixed(d);if(s.startsWith('-'))s='\u2212'+s.slice(1);if(s==='\u22120.'+'0'.repeat(d))s=s.slice(1);return s;}
panels.forEach((p,i)=>{
  const xs=v=>p.xp[1]+(v-p.xp[0])*(p.xp[3]-p.xp[1])/(p.xp[2]-p.xp[0]);
  const ys=v=>p.yp[1]+(v-p.yp[0])*(p.yp[3]-p.yp[1])/(p.yp[2]-p.yp[0]);
  const g=mk('g',{},svg);
  
  
  const pg=mk('g',{fill:'#0b8ae4'},g);
  
  
  p.data.forEach(col=>{col[1].forEach(yv=>{
    const c=mk('circle',{cx:xs(col[0]).toFixed(1),cy:ys(yv).toFixed(1),r:5.8},pg);
    
    
  });});
  const ax=mk('path',{d:`M${p.L},${p.T}V${p.B}H${p.R}`,fill:'none',stroke:'#555','stroke-width':2.2},g);
  
  
  p.xt.forEach(v=>{const x=xs(v);
    mk('line',{x1:x,y1:p.B,x2:x,y2:p.B+7,stroke:'#555','stroke-width':2},g);
    const t=mk('text',{x:x,y:p.B+37,'text-anchor':'middle',class:'tk'},g);t.textContent=fmt(v,p.xd);
    
    
  });
  p.yt.forEach(v=>{const y=ys(v);
    mk('line',{x1:p.L-7,y1:y,x2:p.L,y2:y,stroke:'#555','stroke-width':2},g);
    const t=mk('text',{x:p.L-13,y:y+8,'text-anchor':'end',class:'tk'},g);t.textContent=fmt(v,p.yd);
    
    
  });
  const xl=mk('text',{x:(p.L+p.R)/2,y:p.B+72,'text-anchor':'middle',class:'al'},g);xl.textContent=p.feat;
  
  
  const my=(p.T+p.B)/2;
  const y1=mk('text',{x:0,y:0,'text-anchor':'middle',class:'al',transform:`translate(${p.lab+9},${my}) rotate(-90)`},g);y1.textContent='SHAP value for';
  
  
  const y2=mk('text',{x:0,y:0,'text-anchor':'middle',class:'al',transform:`translate(${p.lab+42},${my}) rotate(-90)`},g);y2.textContent=p.feat;
  
  
  const cp=mk('text',{x:p.cx,y:p.cy+13,'text-anchor':'middle',class:'cap'},g);cp.textContent=captions[i];
  
  
});
</script>
</body></html>
